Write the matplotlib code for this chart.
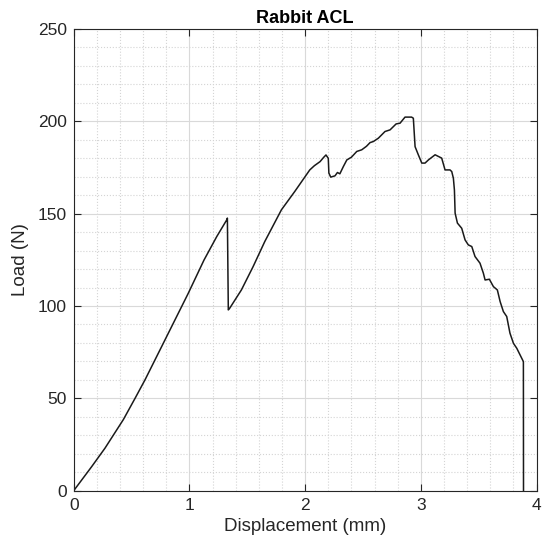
import matplotlib
matplotlib.use("Agg")
import matplotlib.pyplot as plt
from matplotlib.ticker import MultipleLocator

plt.rcParams['font.family'] = ['Liberation Sans', 'DejaVu Sans']

title = "Rabbit ACL"
xlabel = "Displacement (mm)"
ylabel = "Load (N)"

displacement = [0.0, 0.155, 0.27, 0.429, 0.53, 0.616, 0.774, 0.99, 1.126, 1.236,
                1.322, 1.328, 1.336, 1.348, 1.449, 1.55, 1.651, 1.795, 1.91, 2.04, 2.08, 2.129,
                2.16, 2.18, 2.2, 2.205, 2.221, 2.258, 2.279, 2.30, 2.33, 2.36, 2.40, 2.446,
                2.489, 2.53, 2.561, 2.59, 2.633, 2.69, 2.734, 2.786, 2.82, 2.863, 2.92, 2.935,
                2.95, 2.978, 3.008, 3.036, 3.065, 3.123, 3.18, 3.209, 3.252, 3.267, 3.281,
                3.29, 3.296, 3.316, 3.353, 3.382, 3.41, 3.44, 3.468, 3.511, 3.54, 3.555,
                3.592, 3.627, 3.661, 3.685, 3.713, 3.742, 3.77, 3.80, 3.829, 3.886, 3.887]
load = [0.0, 13.0, 23.0, 38.5, 50.0, 60.0, 79.8, 106.9, 124.9, 137.6,
        146.6, 147.6, 97.9, 98.8, 108.7, 121.3, 134.9, 152.1, 162.0, 173.7, 176.0, 178.2,
        180.5, 181.8, 180.0, 172.0, 169.8, 170.5, 172.3, 171.6, 175.5, 179.1, 180.6, 183.7,
        184.6, 186.5, 188.5, 189.1, 190.9, 194.5, 195.4, 198.6, 199.0, 202.3, 202.3, 201.7,
        186.3, 181.9, 177.4, 177.4, 179.1, 181.9, 180.1, 173.7, 173.7, 172.8, 169.2,
        162.8, 150.3, 144.9, 142.1, 135.8, 133.1, 132.2, 126.8, 123.2, 117.8, 114.1,
        114.5, 110.5, 108.7, 102.4, 97.0, 94.3, 85.3, 79.8, 77.1, 69.9, 0.0]

xticks = [0, 1, 2, 3, 4]
yticks = [0, 50, 100, 150, 200, 250]

fig = plt.figure(figsize=(5.42, 5.55), dpi=100)
ax = fig.add_axes([0.136, 0.1159, 0.854, 0.8318])

ax.plot(displacement, load, color='#1a1a1a', linewidth=1.1)

ax.set_xlim(0, 4)
ax.set_ylim(0, 250)
ax.set_xticks(xticks)
ax.set_yticks(yticks)
ax.xaxis.set_minor_locator(MultipleLocator(0.2))
ax.yaxis.set_minor_locator(MultipleLocator(10))

ax.grid(which='major', color='#d9d9d9', linestyle='-', linewidth=0.8)
ax.grid(which='minor', color='#d4d4d4', linestyle=':', linewidth=0.8)
ax.set_axisbelow(True)

ax.tick_params(which='major', direction='in', length=5, width=0.8, top=True, right=True,
               labelsize=12.5, colors='#262626', pad=5)
ax.tick_params(which='minor', length=0, top=True, right=True)
for s in ax.spines.values():
    s.set_color('#262626')
    s.set_linewidth(0.8)

ax.set_xlabel(xlabel, fontsize=13.5, color='#262626', labelpad=4)
ax.set_ylabel(ylabel, fontsize=13.5, color='#262626', labelpad=6)
ax.set_title(title, fontsize=13, fontweight='bold', color='#000000', pad=4)

fig.savefig("out.png", dpi=100)
